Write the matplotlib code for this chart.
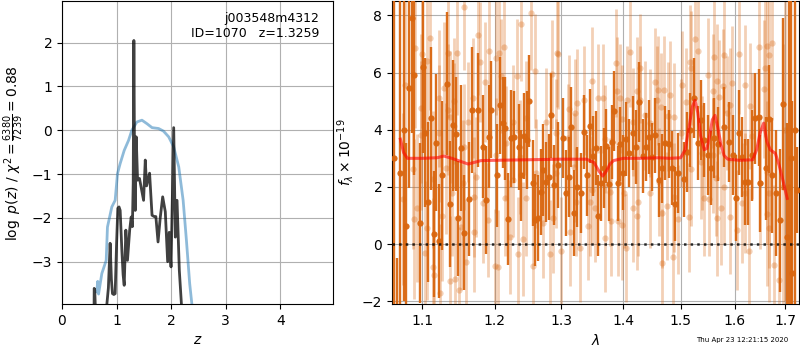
import numpy as np
import matplotlib
matplotlib.use("Agg")
import matplotlib.pyplot as plt
from matplotlib.ticker import FormatStrFormatter, NullLocator

# ---------------- left panel: p(z) ----------------
pz_z = [0.588, 0.590, 0.600, 0.610, 0.82, 0.85, 0.882, 0.905, 0.925, 0.950, 0.974, 1.000, 1.023, 1.045,
        1.066, 1.097, 1.120, 1.140, 1.170, 1.200, 1.240, 1.268, 1.290, 1.305, 1.317, 1.330,
        1.342, 1.360, 1.385, 1.420, 1.450, 1.495, 1.526, 1.550, 1.605, 1.650, 1.690, 1.720,
        1.760, 1.800, 1.845, 1.893, 1.936, 1.965, 1.998, 2.047, 2.077, 2.108, 2.150, 2.190]
pz_logp = [-4.0, -3.61, -3.65, -4.0, -4.0, -3.6, -2.58, -3.4, -3.73, -3.75, -3.73, -2.6, -1.78, -1.75,
           -1.83, -2.74, -3.3, -3.54, -2.28, -2.97, -2.28, -1.98, -2.2, -1.2, 2.05, -0.9,
           -1.83, -0.15, -1.14, -1.1, -1.3, -1.6, -0.68, -1.27, -0.98, -1.94, -1.97, -1.97,
           -2.55, -2.0, -1.52, -1.86, -3.0, -2.33, -3.12, 0.06, -2.44, -1.6, -3.2, -4.0]

chi2_z = [0.637, 0.655, 0.670, 0.730, 0.810, 0.833, 0.913, 0.974, 1.017, 1.066, 1.140, 1.220,
          1.280, 1.373, 1.465, 1.557, 1.650, 1.770, 1.860, 1.955, 2.047, 2.140, 2.220, 2.280,
          2.340, 2.380]
chi2_logp = [-3.69, -3.45, -3.74, -3.27, -2.97, -2.21, -1.75, -1.6, -0.99, -0.76, -0.46, -0.23,
             0.0, 0.19, 0.23, 0.15, 0.06, 0.04, -0.02, -0.15, -0.38, -0.84, -1.6, -2.51,
             -3.5, -3.97]

# ---------------- right panel: spectrum ----------------
dark_wave = [1.0640, 1.0680, 1.0718, 1.0760, 1.0791, 1.0830, 1.0869, 1.0895, 1.0973, 1.1013,
             1.1040, 1.1079, 1.1119, 1.1159, 1.1186, 1.1227, 1.1267, 1.1335, 1.1376, 1.1417,
             1.1458, 1.1486, 1.1527, 1.1568, 1.1638, 1.1680, 1.1765, 1.1835, 1.1878, 1.1921,
             1.1950, 1.2037, 1.2080, 1.2124, 1.2153, 1.2197, 1.2241, 1.2285, 1.2359, 1.2389,
             1.2433, 1.2478, 1.2508, 1.2568, 1.2599, 1.2644, 1.2690, 1.2720, 1.2766, 1.2812,
             1.2843, 1.2889, 1.2951, 1.3029, 1.3076, 1.3123, 1.3155, 1.3202, 1.3250, 1.3314,
             1.3362, 1.3410, 1.3458, 1.3507, 1.3556, 1.3588, 1.3637, 1.3686, 1.3719, 1.3769,
             1.3818, 1.3851, 1.3918, 1.3951, 1.4002, 1.4052, 1.4103, 1.4171, 1.4222, 1.4273,
             1.4342, 1.4394, 1.4446, 1.4498, 1.4550, 1.4620, 1.4673, 1.4726, 1.4796, 1.4850,
             1.4903, 1.4957, 1.5065, 1.5120, 1.5174, 1.5248, 1.5321, 1.5376, 1.5431, 1.5507,
             1.5563, 1.5619, 1.5694, 1.5808, 1.5903, 1.5979, 1.6037, 1.6095, 1.6153, 1.6211,
             1.6270, 1.6329, 1.6388, 1.6467, 1.6506, 1.6606, 1.6666, 1.6726, 1.6807, 1.6888,
             1.6948, 1.7030, 1.7070, 1.7112, 1.7150, 1.7194, 1.7240]
dark_flux = [3.0, -3.5, 2.5, 4.0, 0.63, 5.45, 7.9, 5.9, 0.73, 6.2,
             3.9, 1.47, 4.4, 0.35, 3.55, 0.1, 2.4, 5.6, 1.4, 4.15,
             3.85, 0.9, 3.35, 0.4, 1.57, 4.7, 4.7, 3.4, 1.54, 3.75,
             4.7, 2.4, 4.85, 4.25, 4.05, 0.87, 3.7, 3.75, 3.4, 2.4,
             3.78, 3.64, 5.0, 2.13, 0.84, 0.9, 1.82, 2.6, 2.17, 2.35,
             4.5, 2.06, 2.76, 3.7, 1.8, 2.35, 4.1, 1.08, 2.0, 1.78,
             3.92, 2.4, 4.12, 3.08, 3.35, 1.0, 2.12, 2.65, 3.43, 2.1,
             3.57, 4.65, 2.12, 3.5, 2.5, 3.67, 3.18, 3.88, 3.4, 4.97,
             3.08, 3.4, 3.74, 3.05, 3.8, 2.24, 2.65, 3.53, 3.5, 2.65,
             1.4, 2.5, 2.26, 3.22, 3.98, 5.1, 3.53, 4.34, 3.64, 3.1,
             2.65, 3.7, 3.5, 4.1, 3.57, 3.1, 1.6, 3.9, 3.05, 2.17,
             2.17, 3.1, 4.4, 4.43, 2.13, 2.65, 4.37, 2.4, 1.78, 0.84,
             4.9, 0.25, 2.0, 3.0, -1.0, 4.0, 1.9]
dark_err = [12.0, 3.0, 8.0, 6.0, 2.9, 3.5, 4.0, 3.5, 2.8, 3.0,
            2.6, 2.8, 2.5, 2.2, 2.4, 2.0, 2.6, 2.5, 2.2, 2.3,
            2.0, 2.0, 2.2, 2.0, 2.0, 2.2, 2.0, 1.8, 1.9, 1.8,
            1.7, 1.8, 1.7, 1.6, 1.8, 1.6, 1.7, 1.6, 1.5, 1.6,
            1.5, 1.7, 1.6, 1.5, 1.6, 1.5, 1.5, 1.6, 1.4, 1.5,
            1.5, 1.4, 1.5, 1.4, 1.5, 1.4, 1.4, 1.5, 1.4, 1.4,
            1.3, 1.4, 1.3, 1.4, 1.3, 1.4, 1.3, 1.4, 1.3, 1.3,
            1.3, 1.4, 1.3, 1.3, 1.3, 1.3, 1.2, 1.3, 1.3, 1.4,
            1.3, 1.2, 1.3, 1.2, 1.3, 1.3, 1.2, 1.3, 1.2, 1.3,
            1.3, 1.4, 1.3, 1.4, 1.3, 1.4, 1.3, 1.4, 1.3, 1.4,
            1.3, 1.4, 1.3, 1.4, 1.4, 1.4, 1.5, 1.5, 1.4, 1.5,
            1.5, 1.6, 1.6, 1.7, 1.7, 1.8, 1.9, 2.0, 2.2, 2.5,
            3.0, 4.0, 10.0, 12.0, 6.0, 12.0, 1.5]

light_wave = [1.0757, 1.0782, 1.0885, 1.0898, 1.0910, 1.0936, 1.0987, 1.0990, 1.1000, 1.1042,
              1.1069, 1.1072, 1.1111, 1.1139, 1.1142, 1.1153, 1.1222, 1.1225, 1.1236, 1.1264,
              1.1292, 1.1319, 1.1347, 1.1350, 1.1375, 1.1378, 1.1403, 1.1431, 1.1434, 1.1444,
              1.1472, 1.1500, 1.1528, 1.1556, 1.1569, 1.1572, 1.1597, 1.1625, 1.1694, 1.1708,
              1.1711, 1.1736, 1.1764, 1.1792, 1.1833, 1.1861, 1.1903, 1.1917, 1.2000, 1.2015,
              1.2018, 1.2045, 1.2060, 1.2090, 1.2134, 1.2149, 1.2164, 1.2224, 1.2269, 1.2272,
              1.2328, 1.2343, 1.2373, 1.2388, 1.2418, 1.2463, 1.2466, 1.2537, 1.2567, 1.2597,
              1.2612, 1.2716, 1.2761, 1.2821, 1.2851, 1.2866, 1.2910, 1.2913, 1.2940, 1.2955,
              1.3000, 1.3097, 1.3113, 1.3129, 1.3194, 1.3210, 1.3226, 1.3242, 1.3290, 1.3355,
              1.3419, 1.3452, 1.3484, 1.3487, 1.3532, 1.3581, 1.3661, 1.3694, 1.3697, 1.3774,
              1.3790, 1.3887, 1.3903, 1.3906, 1.3952, 1.3984, 1.3987, 1.4018, 1.4053, 1.4070,
              1.4123, 1.4158, 1.4161, 1.4228, 1.4231, 1.4246, 1.4281, 1.4284, 1.4368, 1.4456,
              1.4459, 1.4544, 1.4579, 1.4596, 1.4614, 1.4649, 1.4667, 1.4670, 1.4702, 1.4754,
              1.4772, 1.4807, 1.4860, 1.4877, 1.4880, 1.4947, 1.5000, 1.5019, 1.5093, 1.5148,
              1.5167, 1.5185, 1.5188, 1.5259, 1.5315, 1.5370, 1.5389, 1.5426, 1.5500, 1.5519,
              1.5593, 1.5596, 1.5611, 1.5648, 1.5667, 1.5670, 1.5704, 1.5741, 1.5778, 1.5796,
              1.5799, 1.5852, 1.5907, 1.5910, 1.5944, 1.6039, 1.6078, 1.6137, 1.6196, 1.6199,
              1.6275, 1.6294, 1.6333, 1.6471, 1.6490, 1.6569, 1.6588, 1.6627, 1.6630, 1.6633,
              1.6667, 1.6670, 1.6673, 1.6726, 1.6784, 1.6882, 1.6950, 1.7000]
light_flux = [1.57, 5.55, 2.62, 0.87, 6.85, 1.26, 4.75, 3.8, 6.65, -0.3,
              6.4, 0.55, 7.2, 2.27, -0.8, -1.08, 5.1, 3.88, -1.7, 1.0,
              5.45, 2.65, 6.7, 4.7, 4.44, -1.3, 1.78, 5.0, 4.12, -1.22,
              6.7, -1.6, 0.6, 2.13, 8.3, 3.4, -0.63, 4.27, 5.1, 1.64,
              0.42, 2.34, 7.3, 6.37, 1.43, 5.66, 0.84, 6.75, -0.77, 6.5,
              3.1, -0.8, 6.7, 5.87, 6.9, 1.6, 3.53, 0.24, 4.27, 2.24,
              5.87, -0.35, 3.05, 7.7, 0.17, 4.4, 1.6, 8.08, -0.77, 6.05,
              2.48, 0.73, 4.27, -0.35, 5.94, 0.9, 3.88, 2.48, 6.68, 6.64,
              -0.24, 3.7, 4.72, 0.42, 2.69, 4.58, 1.47, 4.93, -0.14, 5.03,
              0.63, 1.47, 5.7, 1.89, 1.26, 5.1, 5.1, 3.67, 0.21, 1.82,
              0.8, 6.33, 5.35, 0.8, 5.1, 4.37, 0.66, 1.78, -0.14, 5.03,
              6.71, 4.27, 1.26, 5.35, 1.0, 1.47, 6.15, 5.03, 4.5, 4.23,
              1.78, 5.66, 5.03, 5.38, 2.17, 4.79, 1.08, -0.66, 5.38, 1.33,
              4.47, 5.2, -0.45, 4.44, 1.64, 0.87, 3.88, 5.56, 4.97, 0.94,
              6.37, 6.15, 2.62, 7.17, 6.75, 2.87, 3.18, 1.6, 5.9, 1.57,
              5.35, 3.1, 6.54, 2.3, 5.7, 0.9, 5.14, 1.26, 5.52, 6.6,
              2.0, 4.58, 4.86, 0.94, 5.63, 0.49, 6.64, 1.43, 5.56, 1.78,
              -0.24, 4.83, 3.78, 6.89, 2.13, 5.42, 6.15, 6.92, 2.52, 1.05,
              6.6, 1.78, 0.56, 7.03, -0.73, -1.26, 2.0, 4.0]
light_err = [3.0, 3.0, 2.8, 2.8, 2.8, 2.6, 2.6, 2.6, 2.6, 2.5,
             2.5, 2.5, 2.5, 2.4, 2.4, 2.4, 2.4, 2.4, 2.4, 2.3,
             2.3, 2.3, 2.3, 2.3, 2.3, 2.3, 2.2, 2.2, 2.2, 2.2,
             2.2, 2.2, 2.2, 2.2, 2.2, 2.2, 2.2, 2.1, 2.1, 2.1,
             2.1, 2.1, 2.1, 2.1, 2.1, 2.1, 2.0, 2.0, 2.0, 2.0,
             2.0, 2.0, 2.0, 2.0, 2.0, 2.0, 2.0, 2.0, 2.0, 2.0,
             2.0, 2.0, 2.0, 2.0, 2.0, 2.0, 2.0, 2.0, 2.0, 2.0,
             1.9, 1.9, 1.9, 1.9, 1.9, 1.9, 1.9, 1.9, 1.9, 1.9,
             1.9, 1.9, 1.9, 1.9, 1.9, 1.9, 1.9, 1.9, 1.9, 1.9,
             1.9, 1.9, 1.9, 1.9, 1.9, 1.9, 1.9, 1.9, 1.9, 1.9,
             1.9, 1.9, 1.9, 1.9, 1.9, 1.9, 1.9, 1.9, 1.9, 1.9,
             1.9, 1.9, 1.9, 1.9, 1.9, 1.9, 1.9, 1.9, 1.9, 1.9,
             1.9, 1.9, 1.9, 1.9, 1.9, 1.9, 1.9, 1.9, 1.9, 1.9,
             1.9, 1.9, 1.9, 1.9, 1.9, 1.9, 1.9, 1.9, 1.9, 1.9,
             2.0, 2.0, 2.0, 2.0, 2.0, 2.0, 2.0, 2.0, 2.0, 2.0,
             2.0, 2.0, 2.0, 2.0, 2.0, 2.0, 2.0, 2.0, 2.0, 2.0,
             2.0, 2.0, 2.0, 2.0, 2.0, 2.1, 2.1, 2.1, 2.1, 2.1,
             2.2, 2.2, 2.2, 2.3, 2.3, 2.4, 2.4, 2.5, 2.5, 2.5,
             2.6, 2.6, 2.6, 2.7, 2.8, 3.0, 5.0, 6.0]

model_wave = [1.0718, 1.0760, 1.0808, 1.1000, 1.1200, 1.1292, 1.1400, 1.1625, 1.1806, 1.2000,
              1.2500, 1.3000, 1.3400, 1.3520, 1.3600, 1.3661, 1.3720, 1.3780, 1.3839, 1.4000,
              1.4300, 1.4600, 1.4800, 1.5000, 1.5080, 1.5160, 1.5210, 1.5259, 1.5310, 1.5360,
              1.5426, 1.5480, 1.5530, 1.5580, 1.5630, 1.5680, 1.5740, 1.5800, 1.5870, 1.6100,
              1.6353, 1.6430, 1.6500, 1.6569, 1.6630, 1.6700, 1.6804, 1.6880, 1.6960, 1.7042]
model_flux = [3.67, 3.2, 3.0, 3.0, 3.02, 3.08, 3.0, 2.8, 2.92, 2.93,
              2.95, 2.97, 2.97, 2.85, 2.55, 2.38, 2.55, 2.8, 2.92, 3.0,
              3.0, 3.02, 3.0, 3.02, 3.3, 4.2, 4.8, 5.03, 4.6, 3.8,
              3.3, 3.35, 3.8, 4.35, 4.5, 4.1, 3.5, 3.1, 2.97, 2.93,
              2.95, 3.3, 3.9, 4.23, 3.6, 3.3, 3.17, 2.75, 2.2, 1.6]

chi2_label = r"$\log\ p(z)$ / $\chi^2=\frac{6380}{7239}=0.88$"
title_text = "j003548m4312\nID=1070   z=1.3259"
stamp_text = "Thu Apr 23 12:21:15 2020"
lam_ticks = [1.1, 1.2, 1.3, 1.4, 1.5, 1.6, 1.7]

dark_col = "#d9660f"

fig = plt.figure(figsize=(8, 3.5), dpi=100)
ax1 = fig.add_axes([0.0775, 0.131, 0.339, 0.866])
ax2 = fig.add_axes([0.49, 0.131, 0.509, 0.866])

# left panel
ax1.plot(chi2_z, chi2_logp, color="#1f77b4", alpha=0.5, lw=2)
ax1.plot(pz_z, pz_logp, color="k", alpha=0.75, lw=2)
ax1.set_xlim(0, 4.97)
ax1.set_ylim(-3.97, 2.95)
ax1.set_xticks([0, 1, 2, 3, 4])
ax1.set_yticks([-3, -2, -1, 0, 1, 2])
ax1.grid(True)
ax1.set_xlabel("$z$")
ax1.set_ylabel(chi2_label)
ax1.text(0.948, 0.965, title_text, ha="right", va="top",
         transform=ax1.transAxes, fontsize=9, linespacing=1.25)

# right panel
ax2.errorbar(light_wave, light_flux, yerr=light_err, fmt="o", color=dark_col,
             alpha=0.3, ms=4.5, elinewidth=2.0, mec="none", zorder=2)
ax2.errorbar(dark_wave, dark_flux, yerr=dark_err, fmt="o", color=dark_col,
             alpha=0.95, ms=4.5, elinewidth=1.7, mec="none", zorder=3)
ax2.plot(model_wave, model_flux, color="red", alpha=0.6, lw=2.2, zorder=4)
ax2.axhline(0, color="k", ls=":", lw=1.8, alpha=0.8, zorder=5)
ax2.set_xscale("log")
ax2.set_xlim(1.0611, 1.729)
ax2.set_ylim(-2.1, 8.5)
ax2.set_xticks(lam_ticks)
ax2.xaxis.set_major_formatter(FormatStrFormatter("%.1f"))
ax2.xaxis.set_minor_locator(NullLocator())
ax2.set_yticks([-2, 0, 2, 4, 6, 8])
ax2.grid(True)
ax2.set_xlabel(r"$\lambda$")
ax2.set_ylabel(r"$f_\lambda\times10^{-19}$")

fig.text(0.985, 0.028, stamp_text, ha="right", va="center", fontsize=5)

fig.savefig("out.png", dpi=100)
